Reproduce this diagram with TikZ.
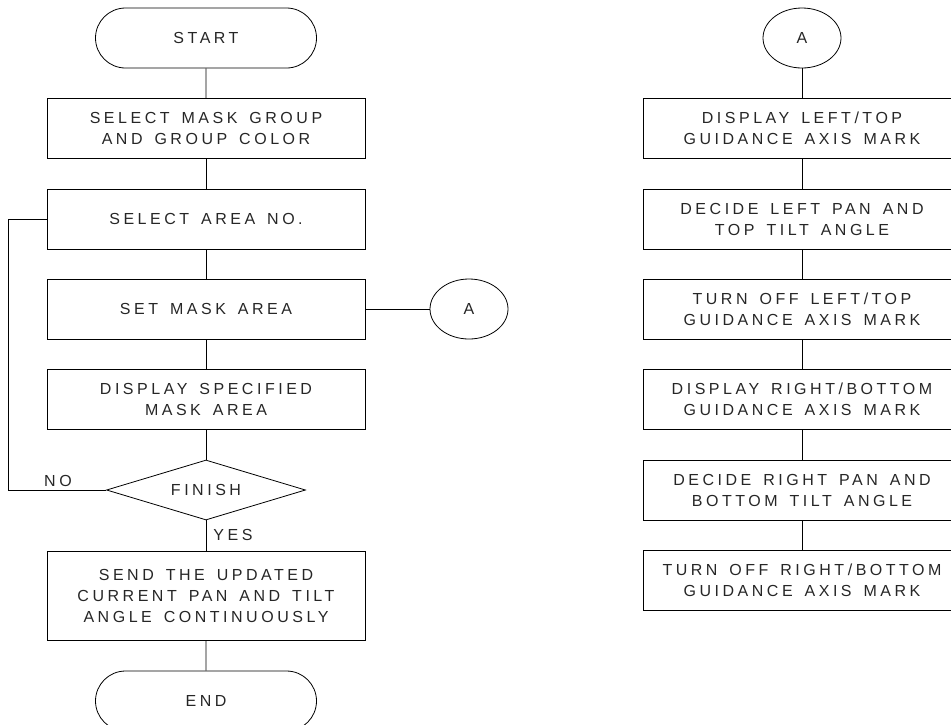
\documentclass[tikz,border=0pt]{standalone}
\usepackage{fontspec}
\setmainfont{Liberation Sans}[LetterSpace=22,WordSpace=1.5]
\usetikzlibrary{shapes.misc,shapes.geometric}
\begin{document}
\begin{tikzpicture}[x=1pt,y=-1pt,
  every node/.style={font=\fontsize{16}{21}\selectfont, text=black!85},
  box/.style={draw, line width=0.8pt, minimum width=318pt, minimum height=60pt, inner sep=0pt, align=center},
  term/.style={draw, line width=0.8pt, rounded rectangle, minimum width=221pt, minimum height=60pt, inner sep=0pt},
  conn/.style={draw, line width=0.8pt, ellipse, minimum width=78pt, minimum height=60pt, inner sep=0pt},
  dec/.style={draw, line width=0.8pt, diamond, shape aspect=3.3, minimum width=199pt, minimum height=60pt, inner sep=0pt},
  link/.style={draw, line width=0.8pt},
  lab/.style={inner sep=0pt}]
\useasboundingbox (0,0) rectangle (951,724);
% left column
\node[term] (start) at (206,38) {START};
\node[box] (b1) at (206,128.5) {SELECT MASK GROUP\\AND GROUP COLOR};
\node[box] (b2) at (206,219) {SELECT AREA NO.};
\node[box] (b3) at (206,309) {SET MASK AREA};
\node[box] (b4) at (206,399.5) {DISPLAY SPECIFIED\\MASK AREA};
\node[dec] (fin) at (206,490) {FINISH};
\node[box, minimum height=89pt] (b5) at (206,595.5) {SEND THE UPDATED\\CURRENT PAN AND TILT\\ANGLE CONTINUOUSLY};
\node[term] (end) at (206,701) {END};
\node[conn] (ca) at (469,309) {A};
\node[lab] (no) at (58,481) {NO};
\node[lab] (yes) at (233,535) {YES};
\coordinate (lp) at (8,219);
\draw[link] (start) -- (b1);
\draw[link] (b1) -- (b2);
\draw[link] (b2) -- (b3);
\draw[link] (b3) -- (b4);
\draw[link] (b4) -- (fin);
\draw[link] (fin) -- (b5);
\draw[link] (b5) -- (end);
\draw[link] (b3) -- (ca);
\draw[link] (b2.west) -- (lp) |- (fin.west);
% right column
\node[conn] (ra) at (802,38) {A};
\node[box] (r1) at (802,128.5) {DISPLAY LEFT/TOP\\GUIDANCE AXIS MARK};
\node[box] (r2) at (802,219) {DECIDE LEFT PAN AND\\TOP TILT ANGLE};
\node[box] (r3) at (802,309) {TURN OFF LEFT/TOP\\GUIDANCE AXIS MARK};
\node[box] (r4) at (802,399.5) {DISPLAY RIGHT/BOTTOM\\GUIDANCE AXIS MARK};
\node[box] (r5) at (802,490) {DECIDE RIGHT PAN AND\\BOTTOM TILT ANGLE};
\node[box] (r6) at (802,580) {TURN OFF RIGHT/BOTTOM\\GUIDANCE AXIS MARK};
\draw[link] (ra) -- (r1);
\draw[link] (r1) -- (r2);
\draw[link] (r2) -- (r3);
\draw[link] (r3) -- (r4);
\draw[link] (r4) -- (r5);
\draw[link] (r5) -- (r6);
\end{tikzpicture}
\end{document}
